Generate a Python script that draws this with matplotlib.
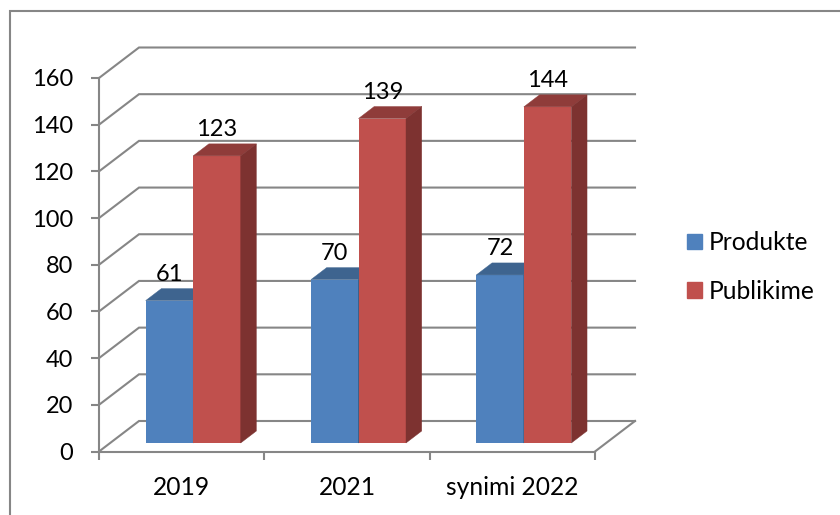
import matplotlib
matplotlib.use('Agg')
import matplotlib.pyplot as plt
from matplotlib.lines import Line2D
from matplotlib.patches import Polygon, Patch

## data
categories = ['2019', '2021', 'synimi 2022']
produkte = [61, 70, 72]
publikime = [123, 139, 144]
y_ticks = [0, 20, 40, 60, 80, 100, 120, 140, 160]

## colours: front, top, side
blue = ('#4F81BD', '#3E648F', '#355579')
red = ('#C0504D', '#8F3C3A', '#7D3230')
grey = '#868686'

W, H = 840, 515
plt.rcParams['font.family'] = ['Lato', 'DejaVu Sans']
fig = plt.figure(figsize=(W / 100, H / 100), dpi=100)

## axes = front plane of the 3d box, in pixels of the reference
left, right, bottom, top = 99, 595, 451.5, 78
ax = fig.add_axes([left / W, 1 - bottom / H, (right - left) / W, (bottom - top) / H])
ax.set_xlim(0, 3)
ax.set_ylim(0, 160)
ax.patch.set_alpha(0)

## 1 px in data units
px = 3 / (right - left)
py = 160 / (bottom - top)

## wall depth
wall_dx = 40 * px
wall_dy = 30.5 * py
## bars sit inside the floor
shift_x = 11.5 * px
shift_y = 8.5 * py
bar_dx = 15.7 * px
bar_dy = 12 * py
bar_w = 47.5 * px

lw = 1.5
num_size = 17
text_size = 17.7

for v in y_ticks:
    ax.plot([0, wall_dx, 3 + wall_dx], [v, v + wall_dy, v + wall_dy],
            color=grey, lw=lw, clip_on=False, zorder=1, solid_joinstyle='miter')
ax.plot([3, 3 + wall_dx], [0, wall_dy], color=grey, lw=lw, clip_on=False, zorder=1)


def draw_bars(values, xs, cols, z):
    ax.bar(xs, values, bar_w, bottom=shift_y, align='edge', color=cols[0], zorder=z, clip_on=False)
    for x, v in zip(xs, values):
        t = v + shift_y
        ax.add_patch(Polygon([(x, t), (x + bar_w, t), (x + bar_w + bar_dx, t + bar_dy), (x + bar_dx, t + bar_dy)],
                             closed=True, fc=cols[1], ec=cols[1], lw=0.3, zorder=z, clip_on=False))
        ax.add_patch(Polygon([(x + bar_w, shift_y), (x + bar_w + bar_dx, shift_y + bar_dy),
                              (x + bar_w + bar_dx, t + bar_dy), (x + bar_w, t)],
                             closed=True, fc=cols[2], ec=cols[2], lw=0.3, zorder=z, clip_on=False))
        ax.annotate(str(v), (x + bar_w / 2, t), xytext=(0, 19), textcoords='offset points',
                    ha='center', va='center', fontsize=num_size, color='black', zorder=10)


xs_center = [i + 0.5 + shift_x for i in range(len(categories))]
draw_bars(produkte, [x - bar_w for x in xs_center], blue, 3)
draw_bars(publikime, xs_center, red, 4)

## axes lines
for s in ['top', 'right']:
    ax.spines[s].set_visible(False)
for s in ['left', 'bottom']:
    ax.spines[s].set_color(grey)
    ax.spines[s].set_linewidth(lw)
    ax.spines[s].set_zorder(2)
ax.set_yticks(y_ticks)
ax.tick_params(axis='y', length=5.8, width=lw, color=grey, labelsize=num_size, pad=13)
ax.set_xticks([0, 1, 2, 3])
ax.set_xticklabels([])
ax.tick_params(axis='x', which='major', length=6, width=lw, color=grey)
ax.set_xticks([i + 0.5 for i in range(len(categories))], minor=True)
ax.set_xticklabels(categories, minor=True)
ax.tick_params(axis='x', which='minor', length=0, labelsize=text_size, pad=17.5)

ax.legend(handles=[Patch(color=blue[0], label='Produkte'), Patch(color=red[0], label='Publikime')],
          loc='center left', bbox_to_anchor=(687 / W, 1 - 267 / H), bbox_transform=fig.transFigure,
          frameon=False, fontsize=text_size, handlelength=0.61, handleheight=0.61,
          handletextpad=0.29, labelspacing=1.05, borderpad=0, borderaxespad=0)

## outer frame runs off the picture on the right and below
fig.add_artist(Line2D([10 / W, 10 / W, 1], [0, 1 - 10.5 / H, 1 - 10.5 / H], color=grey, lw=lw,
                      solid_joinstyle='miter'))

fig.savefig('out.png', dpi=100, facecolor='white')
